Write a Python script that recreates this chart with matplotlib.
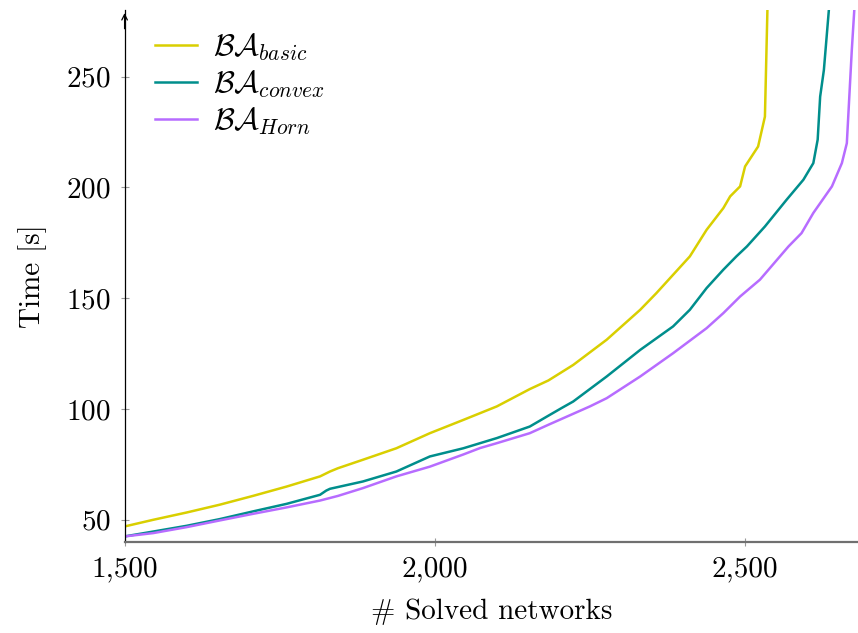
import matplotlib
matplotlib.use('Agg')
import matplotlib.pyplot as plt

plt.rcParams['font.family'] = ['cmr10', 'DejaVu Serif']
plt.rcParams['mathtext.fontset'] = 'cm'
plt.rcParams['axes.formatter.use_mathtext'] = True

# cactus plot data: number of solved networks vs. time
basic_x = [1500, 1546, 1600, 1653, 1707, 1761, 1815, 1831, 1844, 1884, 1938, 1992,
           2046, 2100, 2153, 2183, 2223, 2277, 2331, 2357, 2384, 2411, 2438, 2465,
           2476, 2492, 2500, 2521, 2532, 2536]
basic_y = [47.0, 50.0, 53.3, 56.8, 60.8, 65.0, 69.6, 71.8, 73.3, 77.1, 82.3, 89.1,
           95.1, 101.2, 109.0, 112.9, 119.9, 131.3, 144.8, 152.3, 160.6, 168.9, 180.9, 190.7,
           196, 200.5, 209.5, 218.5, 232, 280]

convex_x = [1500, 1546, 1600, 1653, 1707, 1761, 1815, 1825, 1831, 1884, 1938, 1992,
            2046, 2100, 2153, 2183, 2204, 2223, 2277, 2331, 2384, 2411, 2438, 2465,
            2486, 2503, 2532, 2567, 2594, 2610, 2617, 2621, 2627, 2635]
convex_y = [42.5, 44.7, 47.3, 50.3, 53.8, 57.2, 61.3, 63.2, 64.0, 67.3, 71.8, 78.6,
            82.3, 86.9, 92.1, 97.0, 100.4, 103.4, 114.7, 126.7, 137.3, 144.8, 154.6, 162.9,
            168.9, 173.4, 182.4, 194.5, 203.5, 211, 221.6, 241, 253, 280]

horn_x = [1500, 1546, 1600, 1653, 1707, 1761, 1815, 1844, 1884, 1938, 1992, 2046,
          2073, 2100, 2153, 2183, 2250, 2277, 2331, 2384, 2438, 2465, 2492, 2524, 2570,
          2591, 2610, 2640, 2656, 2664, 2672, 2676]
horn_y = [42.5, 44.0, 46.7, 49.7, 52.7, 55.6, 58.7, 60.8, 64.3, 69.6, 74.0, 79.5,
          82.4, 84.6, 89.1, 92.9, 101.2, 104.9, 114.7, 125.2, 136.5, 143.3, 150.8, 158.4, 173.4,
          179.4, 188.5, 200.5, 211, 220, 262, 280]

x_ticks = [1500, 2000, 2500]
x_tick_labels = ['1,500', '2,000', '2,500']
y_ticks = [50, 100, 150, 200, 250]

fig = plt.figure(figsize=(8.58, 6.33), dpi=100)
ax = fig.add_axes([0.1452, 0.1438, 0.8548, 0.84])

ax.plot(basic_x, basic_y, color='#D9CF00', lw=1.8, label=r'$\mathcal{BA}_{basic}$')
ax.plot(convex_x, convex_y, color='#008E8C', lw=1.8, label=r'$\mathcal{BA}_{convex}$')
ax.plot(horn_x, horn_y, color='#B76CFF', lw=1.8, label=r'$\mathcal{BA}_{Horn}$')

ax.set_xlim(1500, 2682)
ax.set_ylim(40, 280)

ax.spines['top'].set_visible(False)
ax.spines['right'].set_visible(False)
ax.spines['left'].set_color('black')
ax.spines['left'].set_linewidth(0.9)
ax.spines['bottom'].set_color('#707070')
ax.spines['bottom'].set_linewidth(1.6)

ax.annotate('', xy=(0, 1.0), xytext=(0, 0.96), xycoords='axes fraction',
            arrowprops=dict(arrowstyle='->', lw=0.9, color='black'))

ax.set_xticks(x_ticks)
ax.set_xticklabels(x_tick_labels)
ax.set_yticks(y_ticks)
ax.tick_params(direction='inout', length=6, width=0.8, color='#999999',
               labelsize=21, pad=7)

ax.set_xlabel('# Solved networks', fontsize=21, labelpad=12)
ax.set_ylabel('Time [s]', fontsize=21, labelpad=14)

ax.legend(loc='upper left', bbox_to_anchor=(0.041, 0.96), frameon=False,
          borderpad=0, borderaxespad=0,
          fontsize=22, handlelength=1.4, labelspacing=0.2, handletextpad=0.5)

fig.savefig('out.png', dpi=100)
